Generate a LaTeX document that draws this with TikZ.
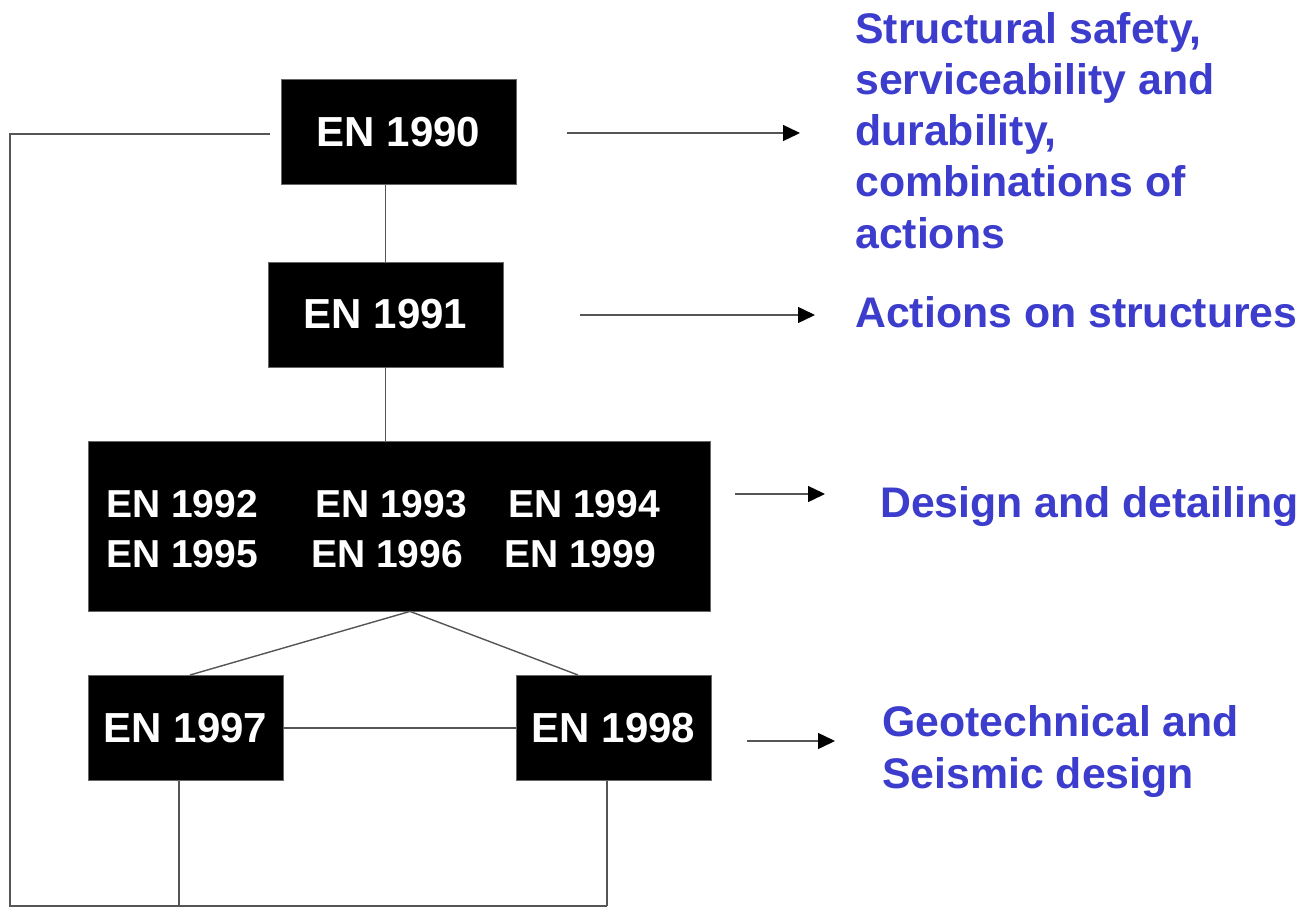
\documentclass[tikz,border=0pt]{standalone}
\usepackage{fontspec}
\setmainfont{Liberation Sans}
\usetikzlibrary{arrows.meta,calc}
\definecolor{labelblue}{RGB}{60,60,205}
\definecolor{linegray}{RGB}{85,85,85}
\tikzset{
  enbox/.style={fill=black,draw=black!60,line width=0.8pt,text=white,inner sep=0pt,
    font=\fontsize{42}{50}\selectfont\bfseries},
  entext/.style={text=white,inner sep=0pt,anchor=base west,font=\fontsize{39}{46}\selectfont\bfseries},
  conn/.style={draw=linegray,line width=1.4pt},
  arr/.style={draw=linegray,line width=1.4pt,-{Triangle[length=17pt,width=16pt,color=black]}},
  lbl/.style={text=labelblue,inner sep=0pt,font=\fontsize{42.8}{51.25}\selectfont\bfseries}
}
\begin{document}
\begin{tikzpicture}[x=1pt,y=-1pt]
\useasboundingbox (0,0) rectangle (1309,909);
% boxes
\node[enbox,minimum width=235pt,minimum height=105pt] (e1990) at (398.5,132) {EN 1990};
\node[enbox,minimum width=235pt,minimum height=105pt] (e1991) at (385.5,314.5) {EN 1991};
\node[enbox,minimum width=622pt,minimum height=170pt] (big) at (399,526) {};
\node[enbox,minimum width=195pt,minimum height=105pt] (e1997) at (185.5,728) {EN 1997};
\node[enbox,minimum width=195pt,minimum height=105pt] (e1998) at (613.5,728) {EN 1998};
% texts in big box
\node[entext] (t1992) at (106,517) {EN 1992};
\node[entext] (t1993) at (315,517) {EN 1993};
\node[entext] (t1994) at (508,517) {EN 1994};
\node[entext] (t1995) at (106,567) {EN 1995};
\node[entext] (t1996) at (311,567) {EN 1996};
\node[entext] (t1999) at (504,567) {EN 1999};
% labels
\node[lbl,anchor=north west,align=left] (l1) at (855,12) {Structural safety,\\serviceability and\\durability,\\combinations of\\actions};
\node[lbl,anchor=base west] (l2) at (855,327) {Actions on structures};
\node[lbl,anchor=base west] (l3) at (880,517) {Design and detailing};
\node[lbl,anchor=base west,align=left] (l4) at (882,736) {Geotechnical and};
\node[lbl,anchor=base west,align=left] (l5) at (882,788) {Seismic design};
% arrow anchor coordinates
\coordinate (a1s) at (567,133);
\coordinate (a1e) at (800,133);
\coordinate (a2s) at (580,315);
\coordinate (a2e) at (815,315);
\coordinate (a3s) at (735,494);
\coordinate (a3e) at (825,494);
\coordinate (a4s) at (747,741);
\coordinate (a4e) at (835,741);
\draw[arr] (a1s) -- (a1e);
\draw[arr] (a2s) -- (a2e);
\draw[arr] (a3s) -- (a3e);
\draw[arr] (a4s) -- (a4e);
% tree connectors
\draw[conn] (e1991.north) -- (e1991.north |- e1990.south);
\draw[conn] (e1991.south) -- (e1991.south |- big.north);
\coordinate (bigfoot) at ($(big.south)+(11,0)$);
\draw[conn] (bigfoot) -- (190,675);
\draw[conn] (bigfoot) -- (578,675);
\draw[conn] (e1997.east) -- (e1998.west);
% loop back to EN 1990
\coordinate (loopstart) at (270,134);
\coordinate (bl) at (10,906);
\coordinate (b1997) at (179,906);
\coordinate (b1998) at (607,906);
\draw[conn] (loopstart) -- (10,134) -- (bl) -- (b1998);
\draw[conn] (e1997.south -| b1997) -- (b1997);
\draw[conn] (e1998.south -| b1998) -- (b1998);
\end{tikzpicture}
\end{document}
